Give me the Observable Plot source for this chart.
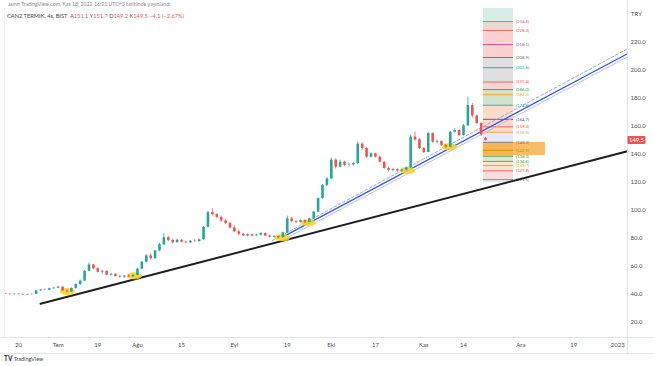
<!DOCTYPE html>
<html><head><meta charset="utf-8">
<script src="https://cdn.jsdelivr.net/npm/d3@7"></script>
<script src="https://cdn.jsdelivr.net/npm/@observablehq/plot@0.6"></script>
<style>
body{margin:0;background:#fff;font-family:Lato,"Open Sans",sans-serif;}
#wrap{position:relative;width:654px;height:366px;overflow:hidden;}
.ov{position:absolute;white-space:nowrap;line-height:1;}
</style></head><body>
<div id="wrap"></div>
<script>
// Daily-ish bars (bar index = position), [open, high, low, close]
const candles = [
[39.8,40.2,39.3,39.5],[39.5,40.0,39.0,39.3],[39.3,39.8,38.9,39.6],[39.6,40.1,39.2,39.4],[39.4,39.7,38.8,39.0],
[39.0,39.6,38.7,39.3],[39.3,39.8,39.0,39.5],[39.5,42.5,39.4,42.0],[42.0,43.0,41.5,42.6],[42.6,43.2,42.0,42.4],
[42.4,43.8,42.2,43.5],[43.5,44.5,43.0,43.9],[43.9,45.2,43.5,44.6],[44.6,44.9,41.5,42.0],[42.0,42.6,40.5,41.2],
[41.2,44.2,40.8,43.7],[43.7,47.0,43.2,46.5],[46.5,49.8,45.8,49.0],[49.0,56.5,48.5,56.0],[56.0,62.0,55.5,60.5],
[60.5,61.0,57.0,57.8],[57.8,58.5,54.8,55.3],[55.3,56.8,54.0,56.0],[56.0,56.4,52.8,53.2],[53.2,54.5,52.5,53.8],
[53.8,54.2,51.8,52.3],[52.3,53.2,51.2,51.8],[51.8,53.0,51.0,52.5],[52.5,53.4,51.5,52.0],[52.0,53.5,51.6,53.0],
[53.0,58.0,52.8,57.5],[57.5,63.0,57.0,62.5],[62.5,68.0,62.0,67.0],[67.0,68.5,64.0,65.0],[65.0,71.0,64.5,70.5],
[70.5,76.0,70.0,75.0],[75.0,83.0,74.5,80.0],[80.0,81.0,77.0,78.0],[78.0,79.0,75.5,76.5],[76.5,78.8,76.0,78.2],
[78.2,78.6,76.2,76.8],[76.8,77.5,75.8,76.3],[76.3,78.0,76.0,77.5],[77.5,78.5,76.8,77.2],[77.2,79.0,76.9,78.5],
[78.5,88.0,78.2,87.5],[87.5,99.0,87.0,98.0],[98.0,100.5,95.5,96.5],[96.5,97.0,93.5,94.5],[94.5,95.5,91.0,92.0],
[92.0,93.0,89.5,90.2],[90.2,91.0,86.0,87.0],[87.0,88.5,83.5,84.2],[84.2,85.5,81.5,82.5],[82.5,83.2,80.8,81.3],
[81.3,82.8,80.5,82.2],[82.2,82.6,80.6,81.2],[81.2,82.5,80.8,81.8],[81.8,83.5,81.2,83.0],[83.0,83.4,80.8,81.2],
[81.2,81.8,79.8,80.4],[80.4,81.5,79.6,80.9],[80.9,81.2,79.2,80.0],[80.0,84.0,79.6,83.5],[83.5,95.5,83.0,93.5],
[93.5,94.5,90.8,91.5],[91.5,92.2,90.2,91.0],[91.0,92.8,90.5,92.3],[92.3,92.6,90.3,91.0],[91.0,94.0,90.6,93.5],
[93.5,99.0,93.0,98.3],[98.3,108.5,98.0,108.0],[108.0,118.0,107.5,117.4],[117.4,123.0,116.5,122.0],[122.0,137.0,121.5,135.5],
[135.5,136.5,129.0,130.5],[130.5,135.5,130.0,134.0],[134.0,134.8,130.8,131.7],[131.7,133.5,130.5,132.0],[132.0,134.0,131.0,133.0],
[133.0,148.5,132.5,147.0],[147.0,147.8,142.5,143.8],[143.8,144.5,136.8,137.6],[137.6,140.8,137.0,140.0],[140.0,140.5,137.0,137.6],
[137.6,138.5,133.5,134.0],[134.0,134.6,129.0,129.5],[129.5,130.5,127.0,128.2],[128.2,129.5,127.3,128.8],[128.8,129.2,126.8,127.6],
[127.6,129.0,127.0,128.4],[128.4,130.5,127.8,130.0],[130.0,153.5,129.5,152.0],[152.0,155.5,149.0,150.0],[150.0,151.0,143.0,143.8],
[143.8,144.5,140.2,141.0],[141.0,155.5,140.8,154.5],[154.5,155.0,147.5,148.3],[148.3,150.0,147.0,148.8],[148.8,149.3,145.5,146.0],
[146.0,146.8,143.8,144.8],[144.8,156.0,144.5,155.5],[155.5,158.0,154.8,156.7],[156.7,157.2,152.6,153.0],[153.0,161.0,152.8,160.0],
[160.0,180.5,159.5,174.6],[174.6,176.0,165.5,167.0],[167.0,168.0,160.8,161.7],[161.7,162.3,152.5,153.6],[151.1,151.7,149.2,149.5]
];

// x-axis ticks (bar index -> label)
const tickIdx = [3,12,21,30,40,52,64,74,84,95,104,117,129,139];
const tickLabels = ["20","Tem","19","Ağu","15","Eyl","19","Eki","17","Kas","14","Ara","19","2023"];
const yTicks = [20,40,60,80,100,120,140,160,180,200,220];

// trend lines [barIndex, price]
const blackTrend = [[8.0,32.7],[141.2,141.9]];
const blueTrend = [[62.9,80.4],[141.2,211.6]];
const blueChannel = [[62.9,78.2],[141.2,209.3]];
const dashedTrend = [[60.6,78.0],[141.2,215.1]];

// highlighted touch points [barIndex, price]
const touches = [[14.1,41.5],[29.3,52.8],[62.9,80.0],[68.8,90.7],[91.3,128.0],[100.8,145.0]];

// Fibonacci-style level column
const fibRange = [108.5,115.35];
const fibLabelAt = [115.9];
const fibLevels = [234.6,228.3,218.1,208.9,201.6,191.4,186.0,182.3,174.8,164.7,159.3,155.5,148.2,142.5,138.3,134.6,131.7,127.8,121.6];
const fibColors = ["#e0607e","#ef5350","#b2478f","#6d6d6d","#22a39a","#ef5350","#43a047","#f39c12","#22a39a","#3f51b5","#ef5350","#f39c12","#808080","#e08a00","#43a047","#43a047","#f39c12","#ef5350","#8a8a8a"];
const bandTop =    [244.0,234.6,228.3,208.9,191.4,186.0,174.8,155.5,148.2,138.3,134.6,131.7,127.8,121.6];
const bandBottom = [234.6,228.3,208.9,191.4,186.0,174.8,155.5,148.2,138.3,134.6,131.7,127.8,121.6,119.3];
const bandFill = ["#d8ece8","#e8dbd2","#f9d1d1","#dfdfdf","#f6d5d5","#d1e3cd","#fddcc7","#e5e8f7","#f6b656","#d4ecd7","#fbe7c6","#fde0cd","#fadcdc","#e7e7e7"];
const orangeZone = [[108.5,122.6],[148.2,138.8]];

const lastClose = 149.5;

const data = candles.map(([o,h,l,c],i)=>({i,o,h,l,c,col:c>=o?"#26a69a":"#ef5350"}));
const bands = bandTop.map((t,k)=>({t,b:bandBottom[k],f:bandFill[k]}));
const levels = fibLevels.map((v,k)=>({v,c:fibColors[k]}));
const tickMap = new Map(tickIdx.map((d,k)=>[d,tickLabels[k]]));
const toPts = a => a.map(([x,y])=>({x,y}));

const ellipse = {draw(ctx,size){const r=Math.sqrt(size/Math.PI);const rx=r,ry=r*0.48,k=0.5523;
  ctx.moveTo(rx,0);ctx.bezierCurveTo(rx,ry*k,rx*k,ry,0,ry);ctx.bezierCurveTo(-rx*k,ry,-rx,ry*k,-rx,0);
  ctx.bezierCurveTo(-rx,-ry*k,-rx*k,-ry,0,-ry);ctx.bezierCurveTo(rx*k,-ry,rx,-ry*k,rx,0);ctx.closePath();}};

const chart = Plot.plot({
  width:654, height:366,
  marginTop:8, marginBottom:29, marginLeft:5, marginRight:27,
  style:{background:"#fff", color:"#4f4f4f", fontFamily:"Lato, 'Open Sans', sans-serif"},
  x:{type:"linear", domain:[0.05,141.22], axis:null},
  y:{type:"linear", domain:[8.62,243.96], axis:null},
  marks:[
    Plot.rect(bands,{x1:()=>fibRange[0],x2:()=>fibRange[1],y1:"t",y2:"b",fill:"f"}),
    Plot.rect([orangeZone],{x1:d=>d[0][0],x2:d=>d[0][1],y1:d=>d[1][0],y2:d=>d[1][1],fill:"#f6b656",fillOpacity:0.9}),
    Plot.ruleY(levels,{y:"v",x1:()=>fibRange[0],x2:()=>fibRange[1],stroke:"c",strokeWidth:0.9}),
    Plot.text(levels,{y:"v",x:()=>fibLabelAt[0],text:d=>`(${d.v.toFixed(1)})`,fill:"c",textAnchor:"start",fontSize:4.3}),
    Plot.line(toPts(blackTrend),{x:"x",y:"y",stroke:"#1e1e1e",strokeWidth:2}),
    Plot.line(toPts(blueChannel),{x:"x",y:"y",stroke:"#a9bdf3",strokeWidth:0.9}),
    Plot.line(toPts(dashedTrend),{x:"x",y:"y",stroke:"#8f9fd6",strokeWidth:0.9,strokeDasharray:"3,2"}),
    Plot.line(toPts(blueTrend),{x:"x",y:"y",stroke:"#3558e8",strokeWidth:1.3}),
    Plot.dot(toPts(touches),{x:"x",y:"y",r:7.5,symbol:ellipse,fill:"#f7d51d",fillOpacity:0.85,stroke:"none"}),
    Plot.ruleX(data,{x:"i",y1:"l",y2:"h",stroke:"col",strokeWidth:0.8}),
    Plot.ruleX(data,{x:"i",y1:"o",y2:"c",stroke:"col",strokeWidth:2.6}),
    Plot.axisY({anchor:"right",ticks:yTicks,tickFormat:d=>d.toFixed(1),tickSize:0,tickPadding:3,fontSize:6}),
    Plot.axisX({ticks:tickIdx,tickFormat:d=>tickMap.get(d),tickSize:0,tickPadding:5,fontSize:6})
  ]
});

const wrap = document.getElementById("wrap");
wrap.appendChild(chart);
const svg = d3.select(chart);
const g = svg.append("g");
g.append("line").attr("x1",0).attr("x2",654).attr("y1",337.5).attr("y2",337.5).attr("stroke","#e0e3eb");
g.append("line").attr("x1",0).attr("x2",654).attr("y1",353.5).attr("y2",353.5).attr("stroke","#e0e3eb");
g.append("line").attr("x1",627.5).attr("x2",627.5).attr("y1",0).attr("y2",353.5).attr("stroke","#e0e3eb");
g.append("line").attr("x1",4.5).attr("x2",4.5).attr("y1",8).attr("y2",337.5).attr("stroke","#eceff3");
const yp = chart.scale("y").apply(lastClose);
g.append("rect").attr("x",627.5).attr("y",yp-4).attr("width",18).attr("height",8).attr("fill","#ef5350").attr("rx",1);
g.append("text").attr("x",636.5).attr("y",yp).attr("dy","0.35em").attr("text-anchor","middle")
  .attr("fill","#fff").attr("font-size",5.8).attr("font-family","Lato, sans-serif").text(lastClose.toFixed(1));

function ov(html, css){const d=document.createElement("div");d.className="ov";d.style.cssText=css;d.innerHTML=html;wrap.appendChild(d);}
ov("asmn TradingView.com, Kas 18, 2022 16:21 UTC+3 tarihinde yayınlandı","left:8px;top:1.5px;font-size:5.2px;color:#8a8a8a;");
ov('CAN2 TERMIK, 4s, BIST&nbsp; <span style="color:#555">A</span><span style="color:#ef5350">151.1</span> <span style="color:#555">Y</span><span style="color:#ef5350">151.7</span> <span style="color:#555">D</span><span style="color:#ef5350">149.2</span> <span style="color:#555">K</span><span style="color:#ef5350">149.5</span> <span style="color:#ef5350">−4.1 (−2.67%)</span>',"left:7px;top:12.5px;font-size:5.7px;color:#444;");
ov("TRY","left:631px;top:11px;font-size:6px;color:#555;");
ov('<b style="font-size:6.5px;color:#222">TV</b> TradingView',"left:4px;top:356px;font-size:5.5px;color:#444;");
</script>
</body></html>
